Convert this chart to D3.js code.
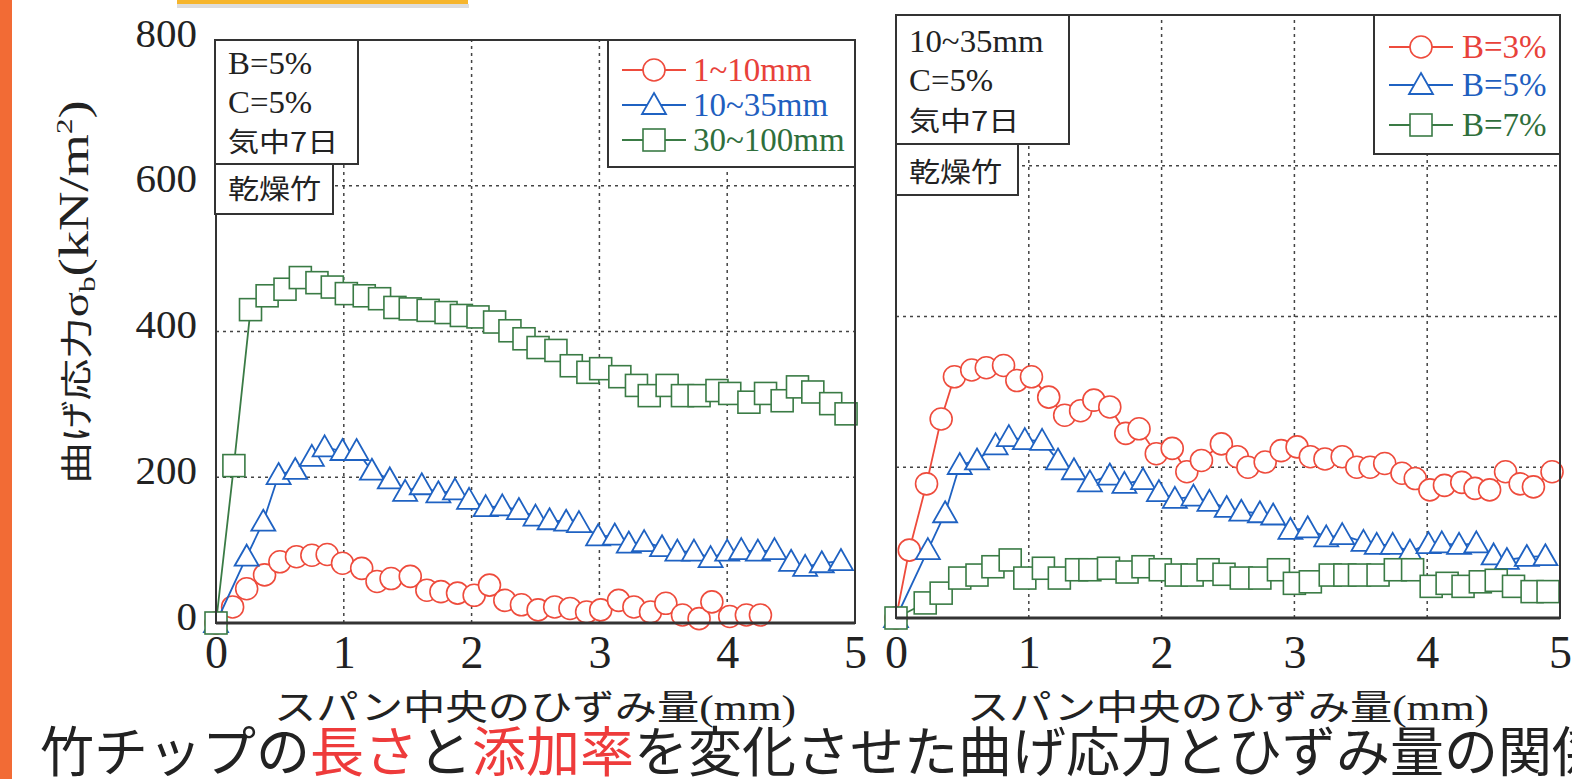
<!DOCTYPE html>
<html>
<head>
<meta charset="utf-8">
<script src="https://cdn.jsdelivr.net/npm/d3@7"></script>
<style>
  body { margin: 0; background: #fff; overflow: hidden; }
  svg { display: block; }
</style>
</head>
<body>
<svg id="chart" width="1572" height="779"></svg>
<script>
// ---- data: [strain (mm), stress (kN/m2)] ----
var xTicks = [0, 1, 2, 3, 4, 5];
var yTicks = [0, 200, 400, 600, 800];

var leftNames = ["1~10mm", "10~35mm", "30~100mm"];
var rightNames = ["B=3%", "B=5%", "B=7%"];

var left10 = [[0,0],[0.13,22],[0.24,47],[0.38,66],[0.5,84],[0.63,91],[0.75,93],[0.87,94],[0.99,82],[1.14,75],[1.26,57],[1.37,61],[1.52,64],[1.65,45],[1.76,43],[1.89,41],[2.02,38],[2.14,52],[2.26,31],[2.39,25],[2.52,18],[2.65,22],[2.77,20],[2.9,15],[3.01,18],[3.15,31],[3.27,22],[3.4,15],[3.52,27],[3.65,11],[3.78,6],[3.88,29],[4.02,9],[4.15,11],[4.26,11]];
var left35 = [[0,0],[0.24,91],[0.37,139],[0.49,203],[0.62,210],[0.75,228],[0.85,241],[0.99,236],[1.1,236],[1.22,209],[1.36,197],[1.48,180],[1.61,189],[1.74,178],[1.87,182],[1.98,169],[2.11,159],[2.24,160],[2.37,155],[2.5,146],[2.61,141],[2.74,139],[2.84,137],[2.99,119],[3.12,120],[3.23,109],[3.35,111],[3.49,104],[3.61,98],[3.74,98],[3.87,89],[4.0,98],[4.11,100],[4.24,98],[4.37,100],[4.5,84],[4.61,77],[4.74,82],[4.89,85]];
var left100 = [[0,0],[0.14,216],[0.27,430],[0.4,449],[0.54,458],[0.66,474],[0.79,467],[0.91,461],[1.02,452],[1.16,449],[1.28,445],[1.4,433],[1.52,431],[1.66,429],[1.8,426],[1.92,422],[2.05,420],[2.18,413],[2.3,401],[2.41,390],[2.52,378],[2.66,374],[2.78,353],[2.91,344],[3.01,349],[3.16,338],[3.29,326],[3.39,312],[3.53,326],[3.65,312],[3.78,312],[3.92,319],[4.02,315],[4.17,303],[4.3,315],[4.43,305],[4.55,324],[4.67,317],[4.81,301],[4.93,287]];

var rightB3 = [[0,0],[0.1,90],[0.23,178],[0.34,264],[0.44,320],[0.57,329],[0.68,332],[0.81,335],[0.91,315],[1.02,320],[1.15,293],[1.27,269],[1.39,275],[1.49,289],[1.61,280],[1.73,245],[1.83,251],[1.96,218],[2.08,225],[2.19,194],[2.3,209],[2.45,231],[2.57,214],[2.65,200],[2.78,207],[2.9,222],[3.02,227],[3.12,214],[3.23,211],[3.36,214],[3.47,200],[3.57,200],[3.68,205],[3.81,192],[3.91,185],[4.02,170],[4.13,176],[4.26,180],[4.36,172],[4.47,170],[4.59,194],[4.7,178],[4.8,174],[4.94,194]];
var rightB5 = [[0,0],[0.24,90],[0.37,139],[0.48,203],[0.61,209],[0.75,229],[0.85,240],[0.97,236],[1.1,235],[1.22,209],[1.34,196],[1.46,180],[1.61,189],[1.72,178],[1.86,183],[1.98,167],[2.1,158],[2.24,161],[2.36,154],[2.49,146],[2.6,141],[2.74,139],[2.84,136],[2.97,117],[3.1,119],[3.24,107],[3.36,110],[3.52,101],[3.62,97],[3.74,97],[3.87,88],[4.01,98],[4.11,99],[4.24,97],[4.37,99],[4.5,83],[4.6,77],[4.75,81],[4.89,82]];
var rightB7 = [[0,0],[0.22,20],[0.34,33],[0.48,53],[0.61,57],[0.73,68],[0.86,77],[0.97,53],[1.11,66],[1.23,53],[1.36,64],[1.46,64],[1.6,66],[1.74,61],[1.86,68],[1.99,64],[2.11,57],[2.23,57],[2.35,64],[2.47,58],[2.6,53],[2.74,53],[2.88,64],[3.0,46],[3.12,48],[3.27,57],[3.38,57],[3.49,57],[3.63,57],[3.76,64],[3.89,64],[4.03,42],[4.15,46],[4.27,42],[4.4,48],[4.52,50],[4.65,42],[4.79,35],[4.91,35]];

var leftInfo = ["B=5%", "C=5%", "気中7日"];
var rightInfo = ["10~35mm", "C=5%", "気中7日"];
var boxLabel = "乾燥竹";

// ---- styles ----
var serif = "'Liberation Serif', 'Times New Roman', serif";
var gothic = "'Noto Sans CJK JP', 'Noto Sans', sans-serif";
var lineColors = ["#ee4b3c", "#1f62c2", "#3a7b45"];
var textColors = ["#e8413a", "#1f5fbf", "#2f6f3c"];
var shapes = ["circle", "triangle", "square"];

var svg = d3.select("#chart");

// page decoration
svg.append("rect").attr("x", 0).attr("y", 0).attr("width", 1572).attr("height", 779).attr("fill", "#fff");
svg.append("rect").attr("x", 0).attr("y", 0).attr("width", 12).attr("height", 779).attr("fill", "#f26b35");
svg.append("rect").attr("x", 177).attr("y", 4).attr("width", 292).attr("height", 4).attr("fill", "#bbb").attr("opacity", 0.5);
svg.append("rect").attr("x", 177).attr("y", -2).attr("width", 291).attr("height", 6).attr("fill", "#f6b52c");

function marker(g, shape, cx, cy, color) {
  if (shape == "circle") {
    g.append("circle").attr("cx", cx).attr("cy", cy).attr("r", 11)
      .attr("fill", "#fff").attr("stroke", color).attr("stroke-width", 1.6);
  } else if (shape == "triangle") {
    g.append("path")
      .attr("d", "M" + cx + "," + (cy - 12) + "L" + (cx + 12) + "," + (cy + 9) + "L" + (cx - 12) + "," + (cy + 9) + "Z")
      .attr("fill", "#fff").attr("stroke", color).attr("stroke-width", 1.8);
  } else {
    g.append("rect").attr("x", cx - 11).attr("y", cy - 11).attr("width", 22).attr("height", 22)
      .attr("fill", "#fff").attr("stroke", color).attr("stroke-width", 1.6);
  }
}

var panels = [
  { x0: 216, x1: 855, yTop: 40, yBot: 623, series: [left10, left35, left100], names: leftNames, info: leftInfo,
    infoBox: [215, 40, 143, 124], infoX: 228, infoY: [74, 113, 152], labelBox: [215, 164, 118, 50], labelY: 199,
    legBox: [608, 40, 247, 127], legX: 654, legTextX: 693, legY: [70, 105, 140], yAxis: true, titleX: 535 },
  { x0: 896, x1: 1560, yTop: 15, yBot: 618, series: [rightB3, rightB5, rightB7], names: rightNames, info: rightInfo,
    infoBox: [896, 15, 173, 129], infoX: 909, infoY: [52, 91, 131], labelBox: [896, 144, 122, 51], labelY: 182,
    legBox: [1374, 15, 186, 139], legX: 1421, legTextX: 1462, legY: [47, 85, 125], yAxis: false, titleX: 1228 }
];

panels.forEach(function(p) {
  var x = d3.scaleLinear().domain([0, 5]).range([p.x0, p.x1]);
  var y = d3.scaleLinear().domain([0, 800]).range([p.yBot, p.yTop]);
  var g = svg.append("g");

  // dotted grid
  g.selectAll(".vg").data(xTicks.slice(1, 5)).enter().append("line")
    .attr("x1", function(d) { return x(d); }).attr("x2", function(d) { return x(d); })
    .attr("y1", p.yBot).attr("y2", p.yTop)
    .attr("stroke", "#444").attr("stroke-width", 1.5).attr("stroke-dasharray", "3,4");
  g.selectAll(".hg").data(yTicks.slice(1, 4)).enter().append("line")
    .attr("y1", function(d) { return y(d); }).attr("y2", function(d) { return y(d); })
    .attr("x1", p.x0).attr("x2", p.x1)
    .attr("stroke", "#444").attr("stroke-width", 1.5).attr("stroke-dasharray", "3,4");

  // series
  var line = d3.line().x(function(d) { return x(d[0]); }).y(function(d) { return y(d[1]); });
  p.series.forEach(function(s, i) {
    g.append("path").attr("d", line(s)).attr("fill", "none")
      .attr("stroke", lineColors[i]).attr("stroke-width", 1.8);
    s.forEach(function(d) { marker(g, shapes[i], x(d[0]), y(d[1]), lineColors[i]); });
  });

  // frame
  g.append("rect").attr("x", p.x0).attr("y", p.yTop).attr("width", p.x1 - p.x0).attr("height", p.yBot - p.yTop)
    .attr("fill", "none").attr("stroke", "#333").attr("stroke-width", 2);
  g.append("line").attr("x1", p.x0).attr("x2", p.x1).attr("y1", p.yBot).attr("y2", p.yBot)
    .attr("stroke", "#333").attr("stroke-width", 3);

  // condition boxes
  g.append("rect").attr("x", p.infoBox[0]).attr("y", p.infoBox[1]).attr("width", p.infoBox[2]).attr("height", p.infoBox[3])
    .attr("fill", "#fff").attr("stroke", "#333").attr("stroke-width", 2);
  g.append("rect").attr("x", p.labelBox[0]).attr("y", p.labelBox[1]).attr("width", p.labelBox[2]).attr("height", p.labelBox[3])
    .attr("fill", "#fff").attr("stroke", "#333").attr("stroke-width", 2);
  p.info.forEach(function(t, i) {
    var cjk = /[^\x00-\x7f]/.test(t);
    g.append("text").attr("transform", "translate(" + p.infoX + "," + p.infoY[i] + ") scale(" + (cjk ? 1.15 : 1.06) + ",1)")
      .text(t).attr("font-family", cjk ? gothic : serif).attr("font-size", cjk ? 27 : 31).attr("fill", "#222");
  });
  g.append("text").attr("transform", "translate(" + p.infoX + "," + p.labelY + ") scale(1.15,1)").text(boxLabel)
    .attr("font-family", gothic).attr("font-size", 27).attr("fill", "#222");

  // legend
  g.append("rect").attr("x", p.legBox[0]).attr("y", p.legBox[1]).attr("width", p.legBox[2]).attr("height", p.legBox[3])
    .attr("fill", "#fff").attr("stroke", "#333").attr("stroke-width", 2);
  p.names.forEach(function(n, i) {
    var ly = p.legY[i];
    g.append("line").attr("x1", p.legX - 32).attr("x2", p.legX + 32).attr("y1", ly).attr("y2", ly)
      .attr("stroke", lineColors[i]).attr("stroke-width", 1.8);
    marker(g, shapes[i], p.legX, ly, lineColors[i]);
    g.append("text").attr("x", p.legTextX).attr("y", ly).attr("dy", "0.34em").text(n)
      .attr("font-family", serif).attr("font-size", 33).attr("fill", textColors[i]);
  });

  // axes (labels only)
  var ax = g.append("g").attr("transform", "translate(0," + p.yBot + ")")
    .call(d3.axisBottom(x).tickValues(xTicks).tickSize(0).tickFormat(d3.format("d")));
  ax.select(".domain").remove();
  ax.selectAll("text").attr("y", 652 - p.yBot).attr("dy", "0.35em")
    .attr("font-family", serif).attr("font-size", 46).attr("fill", "#222");

  if (p.yAxis) {
    var ay = g.append("g").attr("transform", "translate(" + p.x0 + ",0)")
      .call(d3.axisLeft(y).tickValues(yTicks).tickSize(0).tickPadding(19));
    ay.select(".domain").remove();
    ay.selectAll("text").attr("y", -7)
      .attr("font-family", serif).attr("font-size", 41).attr("fill", "#222");
  }

  // x title
  var xt = svg.append("text").attr("transform", "translate(" + p.titleX + ",720) scale(1.21,1)")
    .attr("text-anchor", "middle").attr("fill", "#222");
  xt.append("tspan").attr("font-family", gothic).attr("font-size", 35).text("スパン中央のひずみ量");
  xt.append("tspan").attr("font-family", serif).attr("font-size", 36).text("(mm)");
});

// y title
var yt = svg.append("text").attr("transform", "translate(88,292) rotate(-90) scale(1.3,1)")
  .attr("text-anchor", "middle").attr("fill", "#222");
yt.append("tspan").attr("font-family", gothic).attr("font-size", 32).text("曲げ応力");
yt.append("tspan").attr("font-family", serif).attr("font-size", 36).text("σ");
yt.append("tspan").attr("font-family", serif).attr("font-size", 24).attr("dy", 7).text("b");
yt.append("tspan").attr("font-family", serif).attr("font-size", 42).attr("dy", -7).text("(kN/m");
yt.append("tspan").attr("font-family", serif).attr("font-size", 24).attr("dy", -16).text("2");
yt.append("tspan").attr("font-family", serif).attr("font-size", 42).attr("dy", 16).text(")");

// caption
var cap = svg.append("text").attr("x", 40).attr("y", 772)
  .attr("font-family", gothic).attr("font-size", 54).attr("fill", "#222");
cap.append("tspan").text("竹チップの");
cap.append("tspan").attr("fill", "#ee3b3b").text("長さ");
cap.append("tspan").text("と");
cap.append("tspan").attr("fill", "#ee3b3b").text("添加率");
cap.append("tspan").text("を変化させた曲げ応力とひずみ量の関係");
</script>
</body>
</html>
